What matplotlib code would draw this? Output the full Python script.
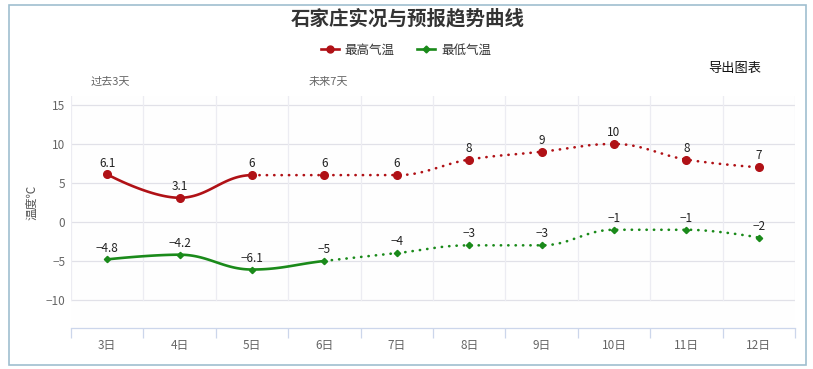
import numpy as np
import matplotlib
matplotlib.use('Agg')
import matplotlib.pyplot as plt
from matplotlib.lines import Line2D
from matplotlib.patches import Rectangle

plt.rcParams['font.family'] = ['Noto Sans CJK SC', 'DejaVu Sans']

# 数据
days = ['3日', '4日', '5日', '6日', '7日', '8日', '9日', '10日', '11日', '12日']
high = [6.1, 3.1, 6, 6, 6, 8, 9, 10, 8, 7]
low = [-4.8, -4.2, -6.1, -5, -4, -3, -3, -1, -1, -2]
high_split = 2   # 实况/预报分界 (最高气温)
low_split = 3    # 实况/预报分界 (最低气温)

c_high = '#b01116'
c_low = '#1a8a1a'


def spline(xs, ys, n=40):
    # 类似 Highcharts 的 spline 平滑
    xs = np.asarray(xs, float)
    ys = np.asarray(ys, float)
    m = len(xs)
    lc = [(xs[i], ys[i]) for i in range(m)]
    rc = [(xs[i], ys[i]) for i in range(m)]
    sm, den = 1.5, 2.5
    for i in range(1, m - 1):
        x, y = xs[i], ys[i]
        px, py = xs[i - 1], ys[i - 1]
        nx, ny = xs[i + 1], ys[i + 1]
        lx = (sm * x + px) / den
        ly = (sm * y + py) / den
        rx = (sm * x + nx) / den
        ry = (sm * y + ny) / den
        if rx != lx:
            corr = (ry - ly) * (rx - x) / (rx - lx) + y - ry
            ly += corr
            ry += corr
        if ly > max(py, y):
            ly = max(py, y)
            ry = 2 * y - ly
        elif ly < min(py, y):
            ly = min(py, y)
            ry = 2 * y - ly
        if ry > max(ny, y):
            ry = max(ny, y)
            ly = 2 * y - ry
        elif ry < min(ny, y):
            ry = min(ny, y)
            ly = 2 * y - ry
        lc[i] = (lx, ly)
        rc[i] = (rx, ry)
    segs = []
    t = np.linspace(0, 1, n)[:, None]
    for i in range(m - 1):
        p0 = np.array([xs[i], ys[i]])
        p1 = np.array(rc[i])
        p2 = np.array(lc[i + 1])
        p3 = np.array([xs[i + 1], ys[i + 1]])
        b = ((1 - t) ** 3) * p0 + 3 * ((1 - t) ** 2) * t * p1 + 3 * (1 - t) * t ** 2 * p2 + t ** 3 * p3
        segs.append(b)
    return segs


fig = plt.figure(figsize=(8.13, 3.69), dpi=100)
fig.patch.set_facecolor('white')
ax = fig.add_axes([71 / 813, 1 - 328 / 369, (795 - 71) / 813, (328 - 96) / 369])
ax.set_facecolor('#fefefe')

x = np.arange(len(days))
ax.set_xlim(-0.5, len(days) - 0.5)
ax.set_ylim(-13.6, 16.15)

# 网格
for yv in [-10, -5, 0, 5, 10, 15]:
    ax.axhline(yv, color='#e1e1e8', lw=0.9, zorder=0)
for xv in np.arange(-0.5, len(days), 1.0):
    ax.plot([xv, xv], [-10, 16.15], color='#ececf2', lw=0.9, zorder=0)

for vals, split, color, mk, ms in [(high, high_split, c_high, 'o', 5.5),
                                   (low, low_split, c_low, 'D', 3.2)]:
    segs = spline(x, vals)
    solid = np.vstack(segs[:split])
    dotted = np.vstack(segs[split:])
    ax.plot(solid[:, 0], solid[:, 1], color=color, lw=1.9, solid_capstyle='round', zorder=2)
    ax.plot(dotted[:, 0], dotted[:, 1], color=color, lw=1.9, linestyle=(0, (0.1, 2.7)),
            dash_capstyle='round', zorder=2)
    ax.plot(x, vals, linestyle='none', marker=mk, ms=ms, color=color, zorder=3)
    for xi, v in zip(x, vals):
        lab = ('%g' % v).replace('-', '−')
        ax.annotate(lab, (xi, v), xytext=(0, 3.5), textcoords='offset points',
                    ha='center', va='bottom', fontsize=8.5, color='#222222')

ax.set_xticks(x)
ax.set_xticklabels(days)
ax.set_xticks(np.arange(-0.5, len(days), 1.0), minor=True)
ax.tick_params(axis='x', which='major', length=0, pad=8, labelsize=8.5, labelcolor='#666666')
ax.tick_params(axis='x', which='minor', length=7, color='#ccd6eb', width=0.9)
ax.set_yticks([-10, -5, 0, 5, 10, 15])
ax.set_yticklabels(['−10', '−5', '0', '5', '10', '15'])
ax.tick_params(axis='y', length=0, pad=4, labelsize=8.5, labelcolor='#666666')

for s in ['top', 'right', 'left']:
    ax.spines[s].set_visible(False)
ax.spines['bottom'].set_color('#ccd6eb')
ax.spines['bottom'].set_linewidth(0.9)

ax.set_ylabel('温度℃', fontsize=8.5, color='#555555')
ax.yaxis.set_label_coords(-0.045, 0.54)

# 标题和文字
fig.text(408 / 813, 1 - 19 / 369, '石家庄实况与预报趋势曲线', ha='center', va='center',
         fontsize=14, fontweight='bold', color='#333333')
fig.text(110 / 813, 1 - 82 / 369, '过去3天', ha='center', va='center', fontsize=8, color='#666666')
fig.text(328 / 813, 1 - 82 / 369, '未来7天', ha='center', va='center', fontsize=8, color='#666666')
fig.text(735 / 813, 1 - 68 / 369, '导出图表', ha='center', va='center', fontsize=9.5, color='#111111')

handles = [Line2D([], [], color=c_high, lw=1.9, marker='o', ms=5),
           Line2D([], [], color=c_low, lw=1.9, marker='D', ms=3.5)]
fig.legend(handles, ['最高气温', '最低气温'], loc='center', bbox_to_anchor=(406 / 813, 1 - 50 / 369),
           ncol=2, frameon=False, fontsize=9, handlelength=1.4, columnspacing=1.8,
           handletextpad=0.5, labelcolor='#333333')

# 外框
fig.patches.append(Rectangle((8.5 / 813, 4 / 369), (806 - 8.5) / 813, (365 - 5) / 369,
                             transform=fig.transFigure, fill=False, edgecolor='#9fbfd0', lw=1.2))

fig.savefig('out.png', dpi=100)
